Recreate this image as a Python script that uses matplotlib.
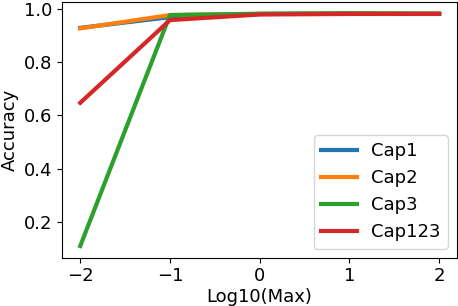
import matplotlib
matplotlib.use("Agg")
import matplotlib.pyplot as plt

# log10 of the max value
x = [-2, -1, 0, 1, 2]
cap1 = [0.928, 0.968, 0.980, 0.981, 0.981]
cap2 = [0.926, 0.976, 0.980, 0.981, 0.981]
cap3 = [0.110, 0.976, 0.981, 0.983, 0.981]
cap123 = [0.647, 0.957, 0.978, 0.980, 0.980]

plt.rcParams['font.size'] = 13
fig, ax = plt.subplots(figsize=(4.58, 3.06), dpi=100)

ax.plot(x, cap1, label='Cap1', linewidth=3)
ax.plot(x, cap2, label='Cap2', linewidth=3)
ax.plot(x, cap3, label='Cap3', linewidth=3)
ax.plot(x, cap123, label='Cap123', linewidth=3)

ax.set_xlabel('Log10(Max)', labelpad=2)
ax.set_ylabel('Accuracy')
ax.set_xticks([-2, -1, 0, 1, 2])
ax.legend(loc='lower right')

fig.subplots_adjust(left=0.136, right=0.998, top=0.995, bottom=0.158)
fig.savefig('out.png')
